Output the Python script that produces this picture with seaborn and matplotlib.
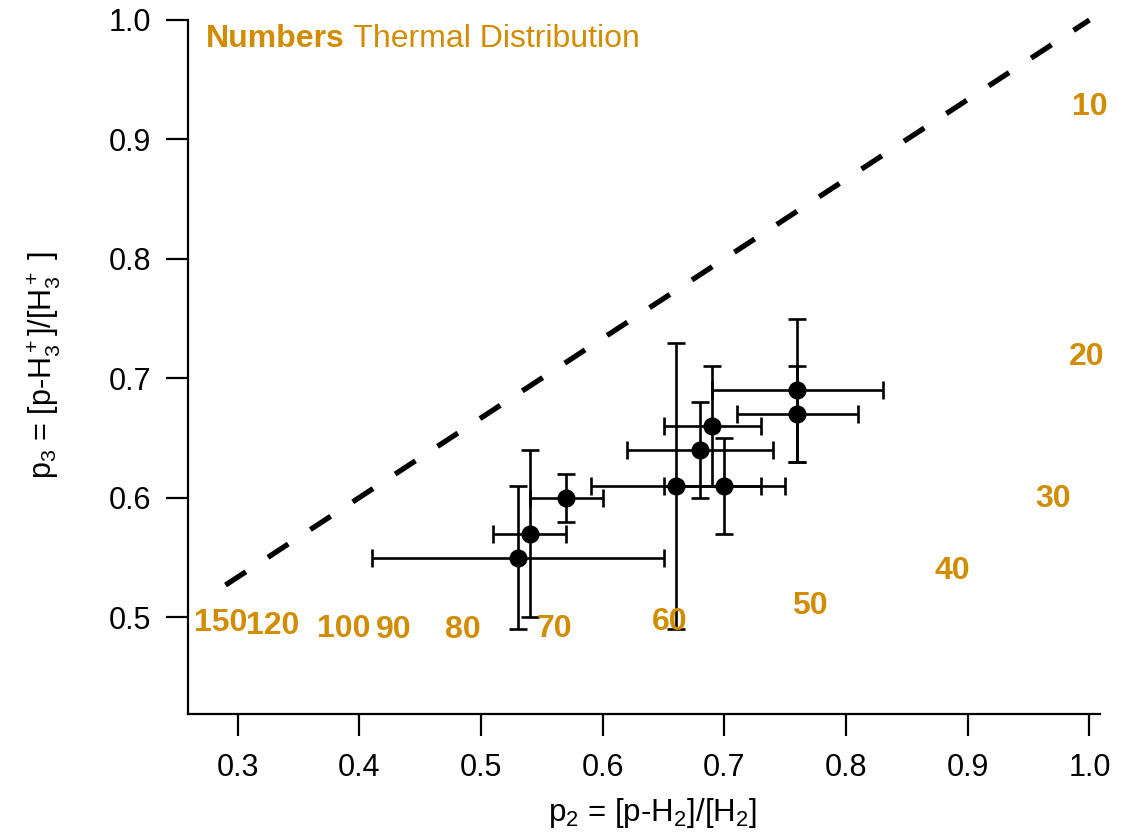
import matplotlib
matplotlib.use("Agg")
import matplotlib.pyplot as plt
import seaborn as sns
import pandas as pd

# ---- data ----
p2 = [0.53, 0.54, 0.57, 0.66, 0.68, 0.69, 0.70, 0.76, 0.76]
p3 = [0.55, 0.57, 0.60, 0.61, 0.64, 0.66, 0.61, 0.69, 0.67]
p2_err = [0.12, 0.03, 0.03, 0.07, 0.06, 0.04, 0.05, 0.07, 0.05]
p3_err = [0.06, 0.07, 0.02, 0.12, 0.04, 0.05, 0.04, 0.06, 0.04]

limit_p2 = [0.29, 1.0]
limit_p3 = [0.527, 1.0]

thermal_labels = ["10", "20", "30", "40", "50", "60", "70", "80", "90", "100", "120", "150"]
thermal_p2 = [1.000, 0.998, 0.970, 0.887, 0.770, 0.655, 0.560, 0.485, 0.428, 0.387, 0.329, 0.286]
thermal_p3 = [0.930, 0.721, 0.602, 0.542, 0.512, 0.499, 0.493, 0.492, 0.492, 0.493, 0.496, 0.498]

x_ticks = [0.3, 0.4, 0.5, 0.6, 0.7, 0.8, 0.9, 1.0]
y_ticks = [0.5, 0.6, 0.7, 0.8, 0.9, 1.0]

ORANGE = "#d18c00"

sns.set_theme(style="ticks")
plt.rcParams["font.family"] = ["Liberation Sans", "DejaVu Sans"]
plt.rcParams["mathtext.fontset"] = "custom"
plt.rcParams["mathtext.rm"] = "Liberation Sans"
plt.rcParams["mathtext.it"] = "Liberation Sans:italic"
plt.rcParams["mathtext.bf"] = "Liberation Sans:bold"

W, H = 1126, 838
fig = plt.figure(figsize=(W / 100, H / 100), dpi=100)
L, R, B, T = 188.3, 1100, 714.3, 20
ax = fig.add_axes([L / W, 1 - B / H, (R - L) / W, (B - T) / H])

# dashed high-temperature limit line
sns.lineplot(x=limit_p2, y=limit_p3, ax=ax, color="black", linewidth=3.8,
             dashes=False, sort=False)
ax.lines[-1].set_dashes((4.6, 5.0))
ax.lines[-1].set_clip_on(False)

# error bars
ax.errorbar(p2, p3, xerr=p2_err, yerr=p3_err, fmt="none", ecolor="black",
            elinewidth=1.9, capsize=6.3, capthick=1.9, zorder=3)

# points
df = pd.DataFrame({"p2": p2, "p3": p3})
sns.scatterplot(data=df, x="p2", y="p3", ax=ax, color="black", s=170,
                edgecolor="black", linewidth=0, zorder=4)

# thermal distribution numbers
for lab, x, y in zip(thermal_labels, thermal_p2, thermal_p3):
    ax.text(x, y, lab, color=ORANGE, fontsize=23, fontweight="bold",
            ha="center", va="center_baseline", clip_on=False)

# title-like legend text
t1 = ax.text(0.0194, 0.977, "Numbers", transform=ax.transAxes, color=ORANGE,
             fontsize=23, fontweight="bold", ha="left", va="center_baseline")
ax.annotate(" Thermal Distribution", xy=(1, 0), xycoords=t1, color=ORANGE,
            fontsize=23, ha="left", va="bottom")

ax.set_xlim(0.2594, 1.0087)
ax.set_ylim(0.4188, 1.0)
ax.set_xticks(x_ticks)
ax.set_yticks(y_ticks)
ax.set_xticklabels([f"{v:.1f}" for v in x_ticks])
ax.set_yticklabels([f"{v:.1f}" for v in y_ticks])
ax.tick_params(axis="both", direction="out", length=16, width=1.6,
               labelsize=22, colors="black")
ax.tick_params(axis="x", pad=12)
ax.tick_params(axis="y", pad=11)
for s in ["left", "bottom"]:
    ax.spines[s].set_linewidth(1.6)
    ax.spines[s].set_color("black")
sns.despine(ax=ax)

ax.set_xlabel(r"p$_2$ = [p-H$_2$]/[H$_2$]", fontsize=22.5, color="black")
ax.set_ylabel(r"p$_3$ = [p-H$_3^+$]/[H$_3^+$ ]", fontsize=22, color="black")
ax.xaxis.set_label_coords(0.509, -0.118)
ax.yaxis.set_label_coords(-0.1385, 0.503)

fig.savefig("out.png", dpi=100)
